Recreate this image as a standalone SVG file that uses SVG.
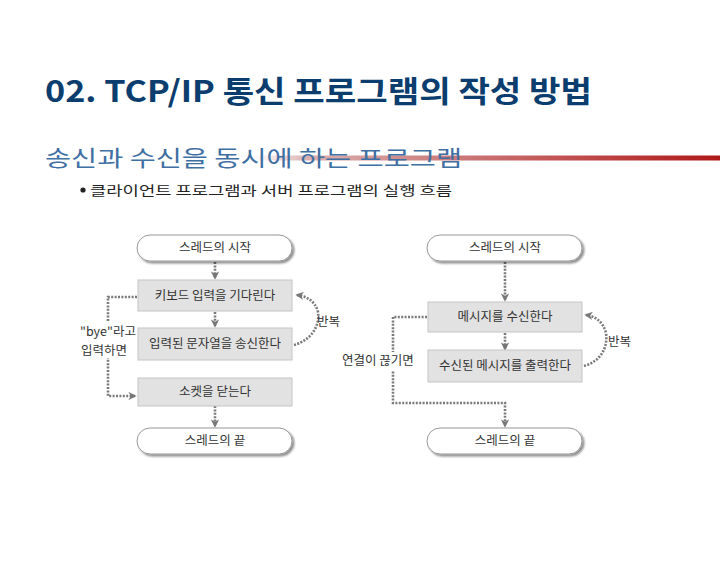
<svg xmlns="http://www.w3.org/2000/svg" width="720" height="567" viewBox="0 0 720 567">
<defs>
<linearGradient id="redline" x1="0" y1="0" x2="1" y2="0">
<stop offset="0" stop-color="#e8c8c8" stop-opacity="0"/>
<stop offset="0.12" stop-color="#dcb0b0"/>
<stop offset="1" stop-color="#b01818"/>
</linearGradient>
<marker id="ah" viewBox="0 0 10 10" refX="8" refY="5" markerWidth="3.2" markerHeight="3.2" orient="auto" markerUnits="strokeWidth">
<path d="M0,0 L10,5 L0,10 L3,5 z" fill="#777"/>
</marker>
<filter id="sh" x="-10%" y="-20%" width="130%" height="160%">
<feOffset dx="2" dy="2" in="SourceAlpha" result="o"/>
<feGaussianBlur in="o" stdDeviation="1" result="b"/>
<feComponentTransfer in="b" result="c"><feFuncA type="linear" slope="0.45"/></feComponentTransfer>
<feMerge><feMergeNode in="c"/><feMergeNode in="SourceGraphic"/></feMerge>
</filter>
</defs>
<style>
.t{font-family:"Noto Sans CJK KR","Noto Sans",sans-serif}
.lbl{font-family:"Noto Sans CJK KR","Noto Sans",sans-serif;font-size:12.5px;fill:#333;text-anchor:middle}
.side{font-family:"Noto Sans CJK KR","Noto Sans",sans-serif;font-size:12.5px;fill:#333}
.pill{fill:#fff;stroke:#999;stroke-width:1}
.box{fill:#e2e2e2;stroke:#c4c4c4;stroke-width:1}
.c{fill:none;stroke:#7a7a7a;stroke-width:2.6;stroke-dasharray:2 1.4}
</style>
<rect width="720" height="567" fill="#fff"/>
<text class="t" x="45" y="102" font-size="30" font-weight="bold" fill="#0b3d6e" textLength="547" lengthAdjust="spacingAndGlyphs">02. TCP/IP 통신 프로그램의 작성 방법</text>
<rect x="250" y="155.5" width="470" height="5" fill="url(#redline)"/>
<text class="t" x="45" y="166" font-size="22" fill="#3f6fa3" textLength="417" lengthAdjust="spacingAndGlyphs">송신과 수신을 동시에 하는 프로그램</text>
<circle cx="83" cy="190" r="2.6" fill="#222"/>
<text class="t" x="90" y="195" font-size="13" fill="#222" textLength="362" lengthAdjust="spacingAndGlyphs">클라이언트 프로그램과 서버 프로그램의 실행 흐름</text>

<g id="connectors">
<line class="c" x1="215" y1="262" x2="215" y2="278" marker-end="url(#ah)"/>
<line class="c" x1="215" y1="312" x2="215" y2="326" marker-end="url(#ah)"/>
<line class="c" x1="215" y1="406" x2="215" y2="426" marker-end="url(#ah)"/>
<polyline class="c" points="137,297 108,297 108,396 135,396" marker-end="url(#ah)"/>
<path class="c" d="M294,345 C312,340 320,325 318,312 C315,300 305,296 297,295" marker-end="url(#ah)"/>
<line class="c" x1="505" y1="262" x2="505" y2="300" marker-end="url(#ah)"/>
<line class="c" x1="505" y1="333" x2="505" y2="349" marker-end="url(#ah)"/>
<polyline class="c" points="427,317 393,317 393,403 505,403 505,426" marker-end="url(#ah)"/>
<path class="c" d="M584,366 C602,361 608,346 606,333 C603,321 594,316 586,315" marker-end="url(#ah)"/>
</g>

<g id="lbl-bye">
<rect x="78" y="322" width="50" height="36" fill="#fff"/>
<text class="side" x="80" y="336">"bye"라고</text>
<text class="side" x="81" y="355">입력하면</text>
</g>
<g id="lbl-loop-l"><text class="side" x="317" y="326">반복</text></g>
<g id="lbl-cut">
<rect x="340" y="352" width="70" height="18" fill="#fff"/>
<text class="side" x="342" y="365">연결이 끊기면</text>
</g>
<g id="lbl-loop-r"><text class="side" x="608" y="346">반복</text></g>

<g id="c-start"><rect class="pill" x="137" y="235" width="155" height="26" rx="13" filter="url(#sh)"/><text class="lbl" x="215" y="252">스레드의 시작</text></g>
<g id="c-wait"><rect class="box" x="138" y="280" width="154" height="31"/><text class="lbl" x="215" y="300">키보드 입력을 기다린다</text></g>
<g id="c-send"><rect class="box" x="138" y="328" width="154" height="32"/><text class="lbl" x="215" y="348">입력된 문자열을 송신한다</text></g>
<g id="c-close"><rect class="box" x="138" y="378" width="154" height="28"/><text class="lbl" x="215" y="396">소켓을 닫는다</text></g>
<g id="c-end"><rect class="pill" x="137" y="428" width="155" height="26" rx="13" filter="url(#sh)"/><text class="lbl" x="215" y="445">스레드의 끝</text></g>

<g id="s-start"><rect class="pill" x="427" y="235" width="155" height="26" rx="13" filter="url(#sh)"/><text class="lbl" x="505" y="252">스레드의 시작</text></g>
<g id="s-recv"><rect class="box" x="428" y="302" width="154" height="30"/><text class="lbl" x="505" y="321">메시지를 수신한다</text></g>
<g id="s-print"><rect class="box" x="428" y="350" width="154" height="32"/><text class="lbl" x="505" y="370">수신된 메시지를 출력한다</text></g>
<g id="s-end"><rect class="pill" x="427" y="428" width="155" height="26" rx="13" filter="url(#sh)"/><text class="lbl" x="505" y="445">스레드의 끝</text></g>
</svg>
